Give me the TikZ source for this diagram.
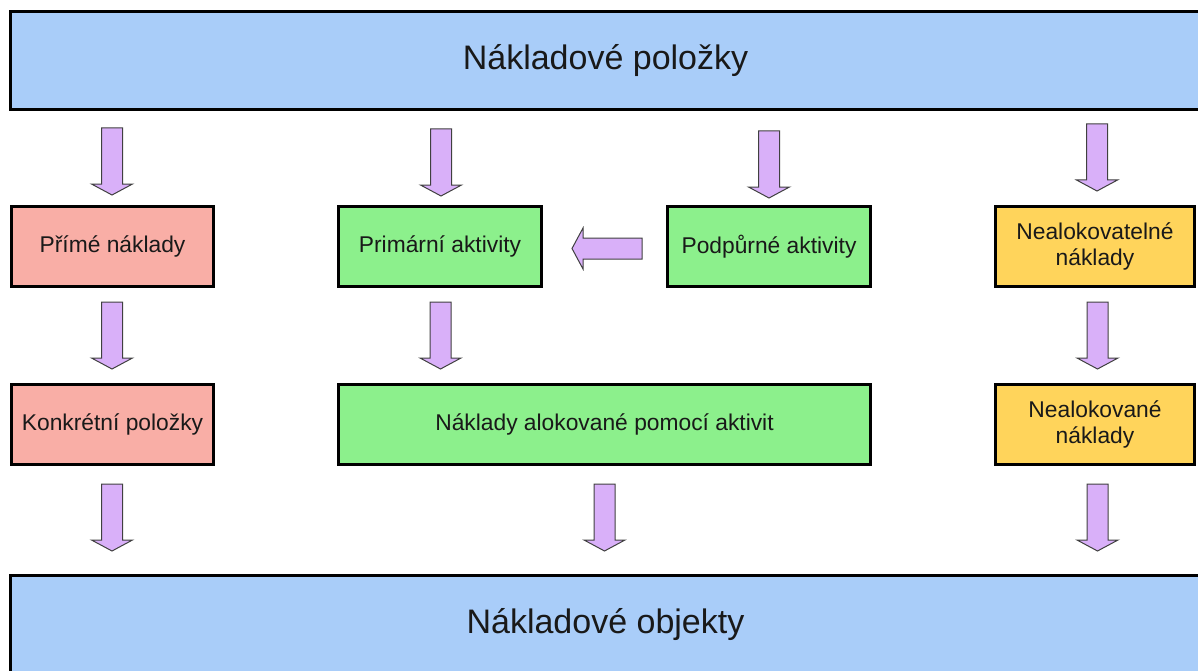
\documentclass[tikz,border=0pt]{standalone}
\usepackage{fontspec}
\setmainfont{Liberation Sans}
\begin{document}
\begin{tikzpicture}[x=1pt,y=-1pt,
  box/.style={draw=black,line width=3pt,inner sep=2pt,align=center,
    minimum height=80pt,font=\fontsize{22.8}{26.5}\selectfont,text=black!90},
  bigbox/.style={box,fill=blueF,minimum height=98pt,minimum width=1190pt,
    font=\fontsize{34}{38}\selectfont},
  redbox/.style={box,fill=redF},
  greenbox/.style={box,fill=greenF},
  yellowbox/.style={box,fill=yellowF},
  blockarrow/.style={draw=arrowLine,line width=1pt,fill=arrowF,line join=miter},
  darrow/.pic={\draw[blockarrow] (-10.5,0) -- (10.5,0) -- (10.5,56) -- (20.5,56)
    -- (0,67) -- (-20.5,56) -- (-10.5,56) -- cycle;}]
\definecolor{blueF}{HTML}{A9CDF9}
\definecolor{redF}{HTML}{F9AEA6}
\definecolor{greenF}{HTML}{8CF08C}
\definecolor{yellowF}{HTML}{FFD45B}
\definecolor{arrowF}{HTML}{D9B0F9}
\definecolor{arrowLine}{HTML}{404040}
\path[use as bounding box] (0,0) rectangle (1198,671);
\clip (0,0) rectangle (1198,671);

% cost items and cost objects
\node[bigbox] (items) at (605.5,60.5) {Nákladové položky};
\node[bigbox] (objects) at (605.5,624.5) {Nákladové objekty};

% first row
\node[redbox,minimum width=202pt] (direct) at (112.5,246.5) {Přímé náklady};
\node[greenbox,minimum width=203pt] (primary) at (440,246.5) {Primární aktivity};
\node[greenbox,minimum width=203pt] (support) at (769,246.5) {Podpůrné aktivity};
\node[yellowbox,minimum width=199pt] (nonalloc) at (1095,246.5) {Nealokovatelné\\náklady};

% second row
\node[redbox,minimum width=202pt] (concrete) at (112.5,424.5) {Konkrétní položky};
\node[greenbox,minimum width=532pt] (allocated) at (604.5,424.5) {Náklady alokované pomocí aktivit};
\node[yellowbox,minimum width=199pt] (unalloc) at (1095,424.5) {Nealokované\\náklady};

% block arrows from the cost items
\pic at (112,128) {darrow};
\pic at (441,129) {darrow};
\pic at (769,131) {darrow};
\pic at (1097,124) {darrow};

% block arrows between the rows
\pic at (112,302) {darrow};
\pic at (440.5,302) {darrow};
\pic at (1097.5,302) {darrow};

% block arrows into the cost objects
\pic at (112,484) {darrow};
\pic at (604.5,484) {darrow};
\pic at (1097.5,484) {darrow};

% support activities feed the primary activities
\draw[blockarrow] (642,238) -- (583,238) -- (583,228) -- (572,248.5)
  -- (583,269) -- (583,259) -- (642,259) -- cycle;
\end{tikzpicture}
\end{document}
